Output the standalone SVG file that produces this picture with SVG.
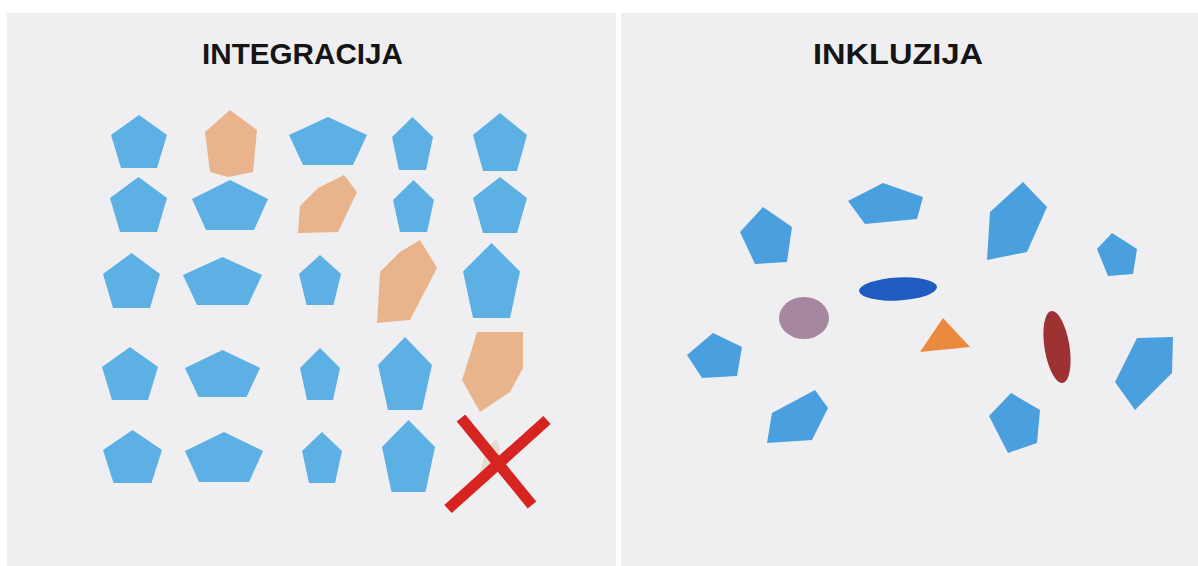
<svg xmlns="http://www.w3.org/2000/svg" width="1198" height="566" viewBox="0 0 1198 566">
<style>
.panel{fill:#efeff1}
.title{font-family:"Liberation Sans",Arial,sans-serif;font-weight:bold;font-size:30px;fill:#151515}
.b{fill:#5cb0e4}
.rb{fill:#4aa0de}
.o{fill:#e9b48c}
.x{stroke:#d62420;stroke-width:11;stroke-linecap:butt;fill:none}
</style>
<rect width="1198" height="566" fill="#ffffff"/>
<rect class="panel" x="7" y="13" width="609" height="553"/>
<rect class="panel" x="621" y="13" width="577" height="553"/>

<g id="integracija">
<text class="title" x="202" y="64" textLength="201" lengthAdjust="spacingAndGlyphs">INTEGRACIJA</text>
<g id="r1c1"><polygon class="b" points="139,115 167,135 157,168 121,168 111,135"/></g>
<g id="r1c2"><polygon class="o" points="230,110 257,130 253,172 228,177 210,172 205,132"/></g>
<g id="r1c3"><polygon class="b" points="328,117 367,135 353,165 303,165 289,135"/></g>
<g id="r1c4"><polygon class="b" points="412.5,117 433,137 426,170 399,170 392,137"/></g>
<g id="r1c5"><polygon class="b" points="500,113 527,135 517,171 483,171 473,135"/></g>

<g id="r2c1"><polygon class="b" points="138.5,177 167,198 157,232 120,232 110,198"/></g>
<g id="r2c2"><polygon class="b" points="230,180 268,199 254,230 206,230 192,199"/></g>
<g id="r2c3"><polygon class="o" points="344,175 357,192 338,232 298,233 300,206 318,188"/></g>
<g id="r2c4"><polygon class="b" points="413.5,180 434,200 427,232 400,232 393,200"/></g>
<g id="r2c5"><polygon class="b" points="500,177 527,198 517,233 483,233 473,198"/></g>

<g id="r3c1"><polygon class="b" points="131.5,253 160,274 150,308 113,308 103,274"/></g>
<g id="r3c2"><polygon class="b" points="222.5,257 262,275 248,305 197,305 183,275"/></g>
<g id="r3c3"><polygon class="b" points="320,255 341,274 333.5,305 306.5,305 299,274"/></g>
<g id="r3c4"><polygon class="o" points="420,240 437,268 423,295 410,320 377,323 380,272 400,252"/></g>
<g id="r3c5"><polygon class="b" points="491.5,243 520,271.5 510,318 473,318 463,271.5"/></g>

<g id="r4c1"><polygon class="b" points="130,347 158,367 148,400 112,400 102,367"/></g>
<g id="r4c2"><polygon class="b" points="222.5,350 260,368 246.5,397 198.5,397 185,368"/></g>
<g id="r4c3"><polygon class="b" points="320,348 340,368 333,400 307,400 300,368"/></g>
<g id="r4c4"><polygon class="b" points="405,337 432,365 422,410 388,410 378,365"/></g>
<g id="r4c5"><polygon class="o" points="477,332 523,332 523,368 510,392 480,412 462,380 470,355"/></g>

<g id="r5c1"><polygon class="b" points="132.5,430 162,450 151.5,483 113.5,483 103,450"/></g>
<g id="r5c2"><polygon class="b" points="224,432 263,451 249,482 199,482 185,451"/></g>
<g id="r5c3"><polygon class="b" points="322,432 342,451 335,483 309,483 302,451"/></g>
<g id="r5c4"><polygon class="b" points="408.5,420 435,447 425.5,492 391.5,492 382,447"/></g>
<g id="r5c5">
<polygon fill="#d8d2b8" opacity="0.6" points="496,438 500,448 496,470 488,482 478,478 486,452"/>
<line class="x" x1="461" y1="418" x2="532" y2="505"/>
<line class="x" x1="547" y1="420" x2="448" y2="509"/>
</g>
</g>

<g id="inkluzija">
<text class="title" x="813" y="64" textLength="170" lengthAdjust="spacingAndGlyphs">INKLUZIJA</text>
<g id="shapeA"><polygon class="rb" points="763,207 792,227 787,262 755,264 740,232"/></g>
<g id="shapeB"><polygon class="rb" points="883,183 923,197 917,219 865,224 848,201"/></g>
<g id="shapeC"><polygon class="rb" points="1023,182 1047,207 1027,252 987,260 990,212"/></g>
<g id="shapeD"><polygon class="rb" points="1112,233 1137,249 1133,274 1108,276 1097,249"/></g>
<g id="shapeE"><polygon class="rb" points="713,333 742,347 737,376 702,378 687,355"/></g>
<g id="shapeF"><polygon class="rb" points="815,390 828,408 812,440 767,443 772,413"/></g>
<g id="shapeG"><polygon class="rb" points="1011,393 1040,410 1037,443 1008,453 989,416"/></g>
<g id="shapeH"><polygon class="rb" points="1173,337 1137,338 1115,382 1135,410 1172,373"/></g>
<g id="blueEllipse"><ellipse cx="898" cy="289" rx="39" ry="11.5" fill="#1f5cc0" transform="rotate(-3 898 289)"/></g>
<g id="purpleCircle"><ellipse cx="804" cy="318" rx="25" ry="21" fill="#a5889f"/></g>
<g id="orangeTriangle"><polygon fill="#e98a3e" points="943,318 920,352 970,347"/></g>
<g id="brownEllipse"><ellipse cx="1057" cy="347" rx="12.5" ry="36.5" fill="#9c3232" transform="rotate(-9 1057 347)"/></g>
</g>
<g id="connectors"/>
</svg>
